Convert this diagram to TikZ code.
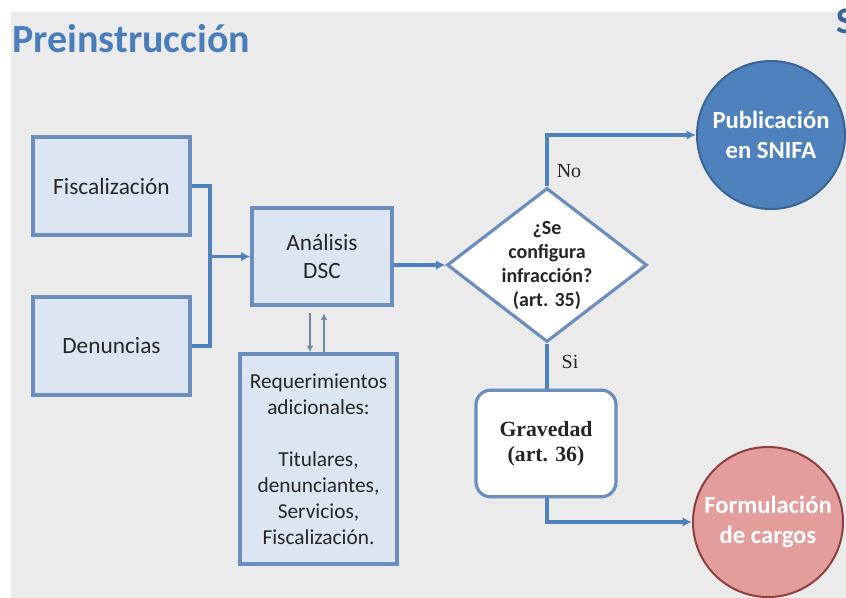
\documentclass[tikz,border=0pt]{standalone}
\usepackage{fontspec}
\setmainfont{Carlito}
\newfontfamily\timesfont{Liberation Serif}
\usetikzlibrary{arrows.meta,shapes.geometric,calc}

\definecolor{fondo}{HTML}{EBEBEB}
\definecolor{titulo}{HTML}{4A7EBB}
\definecolor{cajaazul}{HTML}{DCE6F2}
\definecolor{bordeazul}{HTML}{6C8EBF}
\definecolor{lineaazul}{HTML}{4F81BD}
\definecolor{flechagris}{HTML}{6F86A6}
\definecolor{textogris}{HTML}{262626}
\definecolor{pubazul}{HTML}{4F81BD}
\definecolor{pubborde}{HTML}{3A6495}
\definecolor{formrosa}{HTML}{E39E9C}
\definecolor{formborde}{HTML}{8E3F3F}

\begin{document}
\begin{tikzpicture}[x=0.75pt,y=-0.75pt,
  caja/.style={draw=bordeazul,fill=cajaazul,line width=2.4pt,inner sep=0pt,
    align=center,text=textogris,font=\fontsize{17.5}{21}\selectfont},
  flecha/.style={draw=lineaazul,line width=2.4pt,-{Latex[length=7pt,width=7pt]}},
  linea/.style={draw=lineaazul,line width=2.4pt},
  flechita/.style={draw=flechagris,line width=1.6pt,-{Latex[length=5pt,width=5pt]}},
  circulo/.style={circle,inner sep=0pt,line width=1.5pt,align=center,text=white,
    font=\bfseries\fontsize{18.5}{22}\selectfont},
  rotulo/.style={font=\timesfont\fontsize{15}{18}\selectfont,text=textogris}]
\useasboundingbox (0,0) rectangle (846,598);
\fill[white] (0,0) rectangle (846,598);
\fill[fondo] (11,12) rectangle (846,598);
% title and cut logo
\node[anchor=base west,inner sep=0pt,text=titulo,font=\bfseries\fontsize{30}{36}\selectfont] (tit) at (12,53) {Preinstrucción};
\begin{scope}
\clip (0,0) rectangle (846,598);
\node[anchor=base west,inner sep=0pt,text=titulo!80!black,font=\bfseries\fontsize{28}{34}\selectfont] (logo) at (836,34) {S};
\end{scope}
% boxes
\node[caja,minimum width=117.75pt,minimum height=73.5pt] (fisc) at (111.5,186) {Fiscalización};
\node[caja,minimum width=117.75pt,minimum height=73.5pt] (denu) at (111.5,346) {Denuncias};
\node[caja,minimum width=105pt,minimum height=72.75pt] (anal) at (322,256.5) {Análisis\\DSC};
\node[caja,minimum width=117.75pt,minimum height=157.5pt,font=\fontsize{16}{19.5}\selectfont] (requ) at (318.5,459) {Requerimientos\\adicionales:\\[19.5pt]Titulares,\\denunciantes,\\Servicios,\\Fiscalización.};
\node[diamond,draw=bordeazul,fill=white,line width=2.4pt,inner sep=0pt,minimum width=150pt,minimum height=115.5pt] (dec) at (547,265) {};
\node[align=center,text=textogris,font=\bfseries\fontsize{15}{18}\selectfont] (dectxt) at (dec) {¿Se\\configura\\infracción?\\(art. 35)};
\node[draw=bordeazul,fill=white,line width=2.4pt,rounded corners=11pt,minimum width=105pt,minimum height=80pt,align=center,text=textogris,font=\timesfont\bfseries\fontsize{16.3}{19}\selectfont] (grav) at (546,443.5) {Gravedad\\(art. 36)};
\node[circulo,fill=pubazul,draw=pubborde,minimum size=111pt] (pub) at (771,135) {Publicación\\en SNIFA};
\node[circulo,fill=formrosa,draw=formborde,minimum size=112.5pt] (form) at (768,522) {Formulación\\de cargos};
% connectors
\coordinate (jn) at (210,256.5);
\draw[linea] (fisc.east) -| (jn);
\draw[linea] (denu.east) -| (jn);
\draw[flecha] (jn) -- (anal.west);
\draw[flecha] (dec.west -| anal.east) -- (dec.west);
\draw[flechita] ([xshift=-9pt,yshift=-5pt]anal.south) -- ([xshift=-9pt]anal.south |- requ.north);
\draw[flechita] ([xshift=1.5pt]anal.south |- requ.north) -- ([xshift=1.5pt,yshift=-5pt]anal.south);
\draw[flecha] (dec.north) |- (pub.west);
\draw[linea] (dec.south) -- (dec.south |- grav.north);
\draw[flecha] (dec.south |- grav.south) |- (form.west);
\node[rotulo] (no) at (569,171) {No};
\node[rotulo] (si) at (570,362) {Si};
\end{tikzpicture}
\end{document}
